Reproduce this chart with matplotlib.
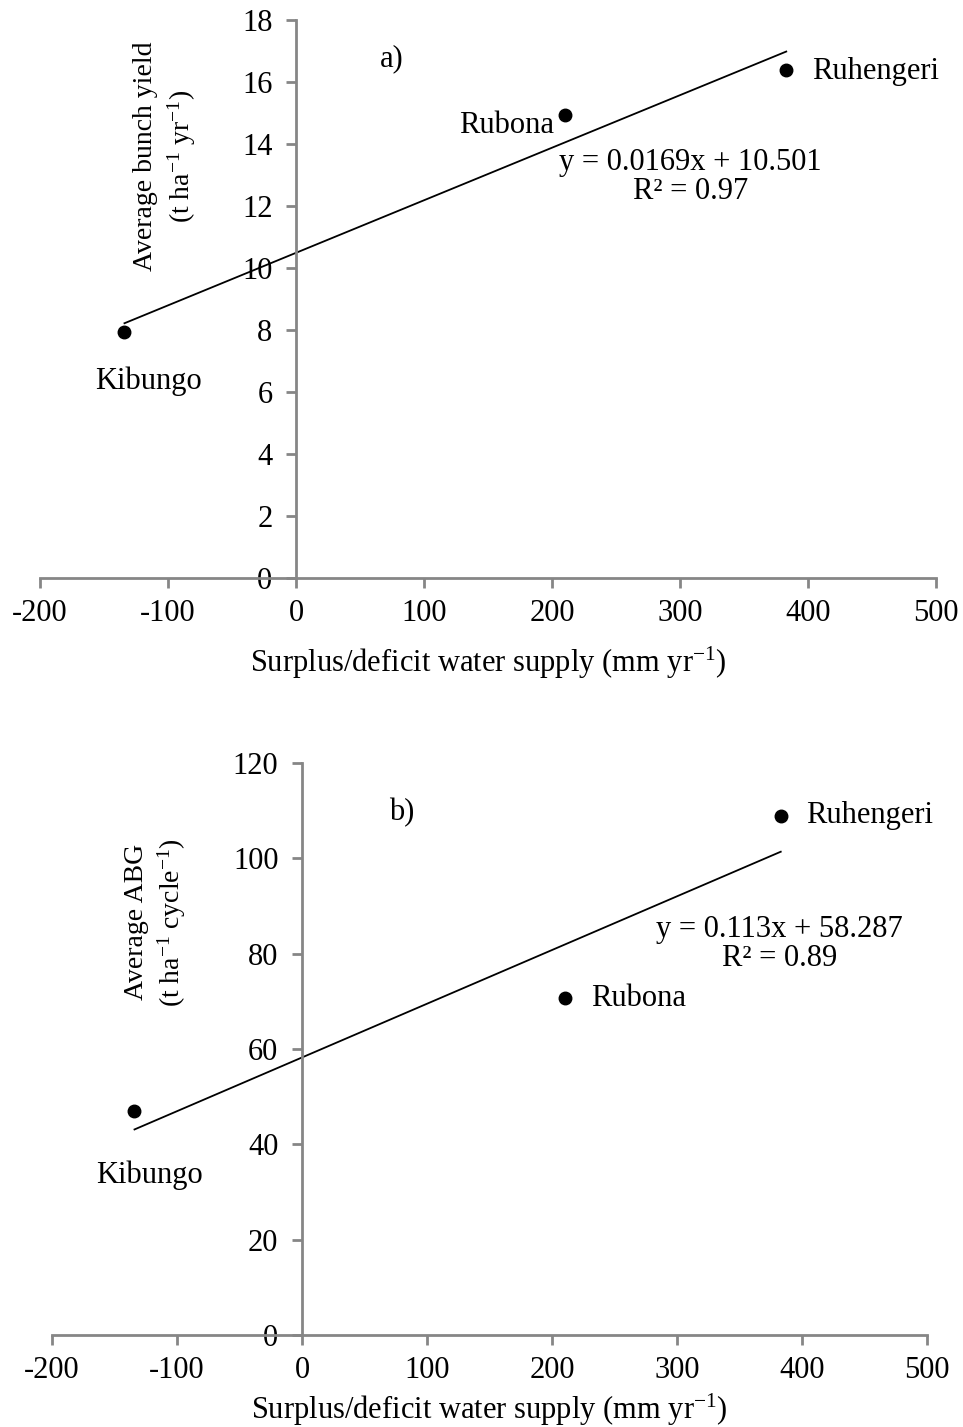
import numpy as np
import matplotlib
matplotlib.use("Agg")
import matplotlib.pyplot as plt

plt.rcParams['font.family'] = ['Liberation Serif', 'DejaVu Serif']
plt.rcParams['mathtext.fontset'] = 'custom'
plt.rcParams['mathtext.rm'] = 'Liberation Serif'
plt.rcParams['mathtext.it'] = 'Liberation Serif:italic'
plt.rcParams['axes.unicode_minus'] = False

# Data
sites = ["Kibungo", "Rubona", "Ruhengeri"]
water_supply = [-134, 210, 383]          # mm yr-1
bunch_yield = [7.92, 14.94, 16.39]       # t ha-1 yr-1
abg = [46.9, 70.6, 108.9]                # t ha-1 cycle-1

eq_a = "y = 0.0169x + 10.501\nR² = 0.97"
eq_b = "y = 0.113x + 58.287\nR² = 0.89"

AXIS_GREY = '#868686'
FS = 22

fig = plt.figure(figsize=(9.63, 14.27), dpi=100)
ax1 = fig.add_axes([40 / 963, 1 - 578 / 1427, 896 / 963, 558 / 1427])
ax2 = fig.add_axes([52 / 963, 1 - 1335 / 1427, 875 / 963, 572 / 1427])


def style_axes(ax, ymax, ystep, labelpad):
    ax.set_xlim(-200, 500)
    ax.set_ylim(0, ymax)
    ax.set_xticks(np.arange(-200, 501, 100))
    ax.set_yticks(np.arange(0, ymax + 1, ystep))
    for s in ['top', 'right']:
        ax.spines[s].set_visible(False)
    ax.spines['left'].set_position(('data', 0))
    ax.spines['bottom'].set_position(('data', 0))
    for s in ['left', 'bottom']:
        ax.spines[s].set_color(AXIS_GREY)
        ax.spines[s].set_linewidth(2)
    ax.tick_params(axis='both', colors=AXIS_GREY, width=2, length=7,
                   labelsize=FS, labelcolor='black', direction='out')
    ax.tick_params(axis='y', pad=10)
    ax.tick_params(axis='x', pad=8)
    ax.patch.set_visible(False)
    ax.set_xlabel("Surplus/deficit water supply (mm yr$^{-1}$)", fontsize=FS,
                  labelpad=labelpad)


def draw_panel(ax, y):
    x = np.array(water_supply, dtype=float)
    y = np.array(y, dtype=float)
    slope, icpt = np.polyfit(x, y, 1)
    xl = np.array([x.min(), x.max()])
    ax.plot(xl, slope * xl + icpt, color='black', lw=1.3, clip_on=False)
    ax.plot(x, y, 'o', color='black', ms=9, clip_on=False)


# Panel a
style_axes(ax1, 18, 2, 12)
draw_panel(ax1, bunch_yield)
ax1.text(-115, 6.35, sites[0], fontsize=FS, ha='center', va='center')
ax1.text(202, 14.6, sites[1], fontsize=FS, ha='right', va='center')
ax1.text(403, 16.35, sites[2], fontsize=FS, ha='left', va='center')
ax1.text(308, 12.95, eq_a, fontsize=FS, ha='center', va='center', multialignment='center',
         linespacing=1.0)
ax1.text(75, 16.75, "a)", fontsize=FS, ha='center', va='center')
ax1.text(-102, 13.6, "Average bunch yield\n(t ha$^{-1}$ yr$^{-1}$)", fontsize=20, rotation=90,
         ha='center', va='center', multialignment='center', linespacing=1.3)

# Panel b
style_axes(ax2, 120, 20, 5)
draw_panel(ax2, abg)
ax2.text(-122, 33.6, sites[0], fontsize=FS, ha='center', va='center')
ax2.text(231, 70.5, sites[1], fontsize=FS, ha='left', va='center')
ax2.text(403, 108.9, sites[2], fontsize=FS, ha='left', va='center')
ax2.text(382, 82.0, eq_b, fontsize=FS, ha='center', va='center', multialignment='center',
         linespacing=1.0)
ax2.text(80, 109.6, "b)", fontsize=FS, ha='center', va='center')
ax2.text(-117, 86.6, "Average ABG\n(t ha$^{-1}$ cycle$^{-1}$)", fontsize=20, rotation=90,
         ha='center', va='center', multialignment='center', linespacing=1.25)

fig.savefig("out.png", dpi=100)
